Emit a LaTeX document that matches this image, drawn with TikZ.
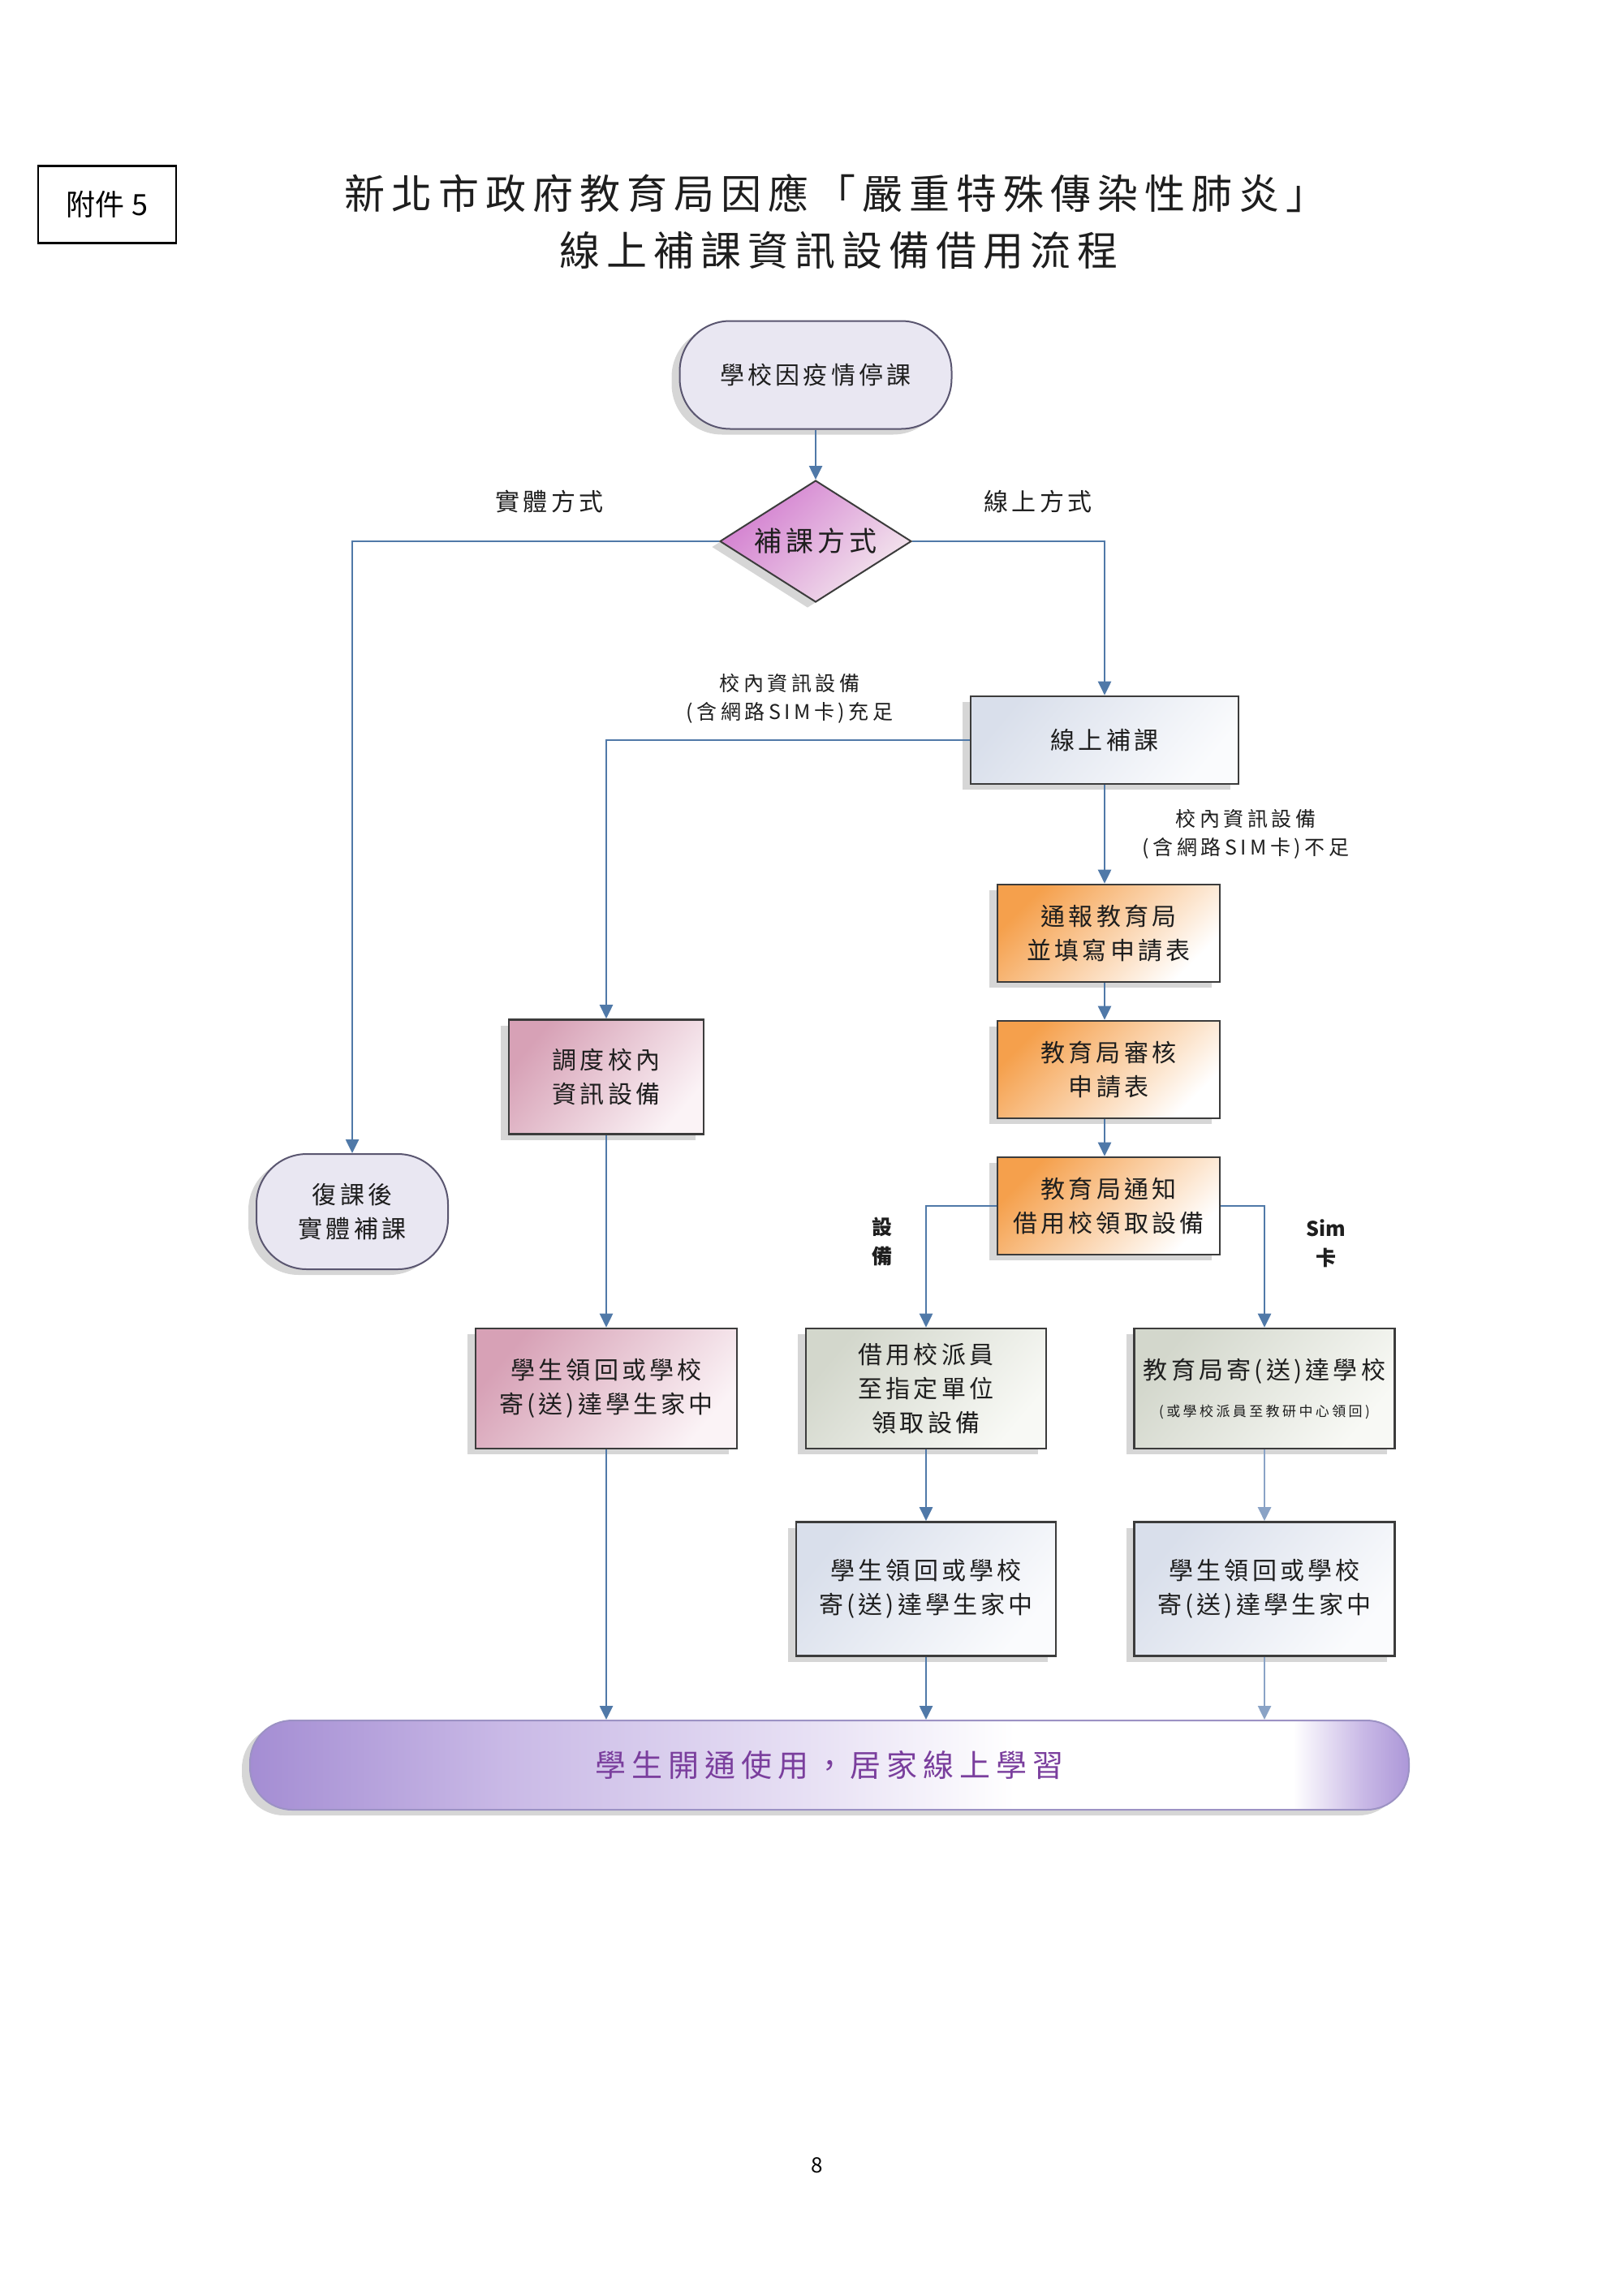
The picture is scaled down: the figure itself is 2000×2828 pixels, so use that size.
\documentclass[tikz,border=0pt]{standalone}
\usepackage{fontspec}
\setmainfont{Liberation Serif}
\newfontfamily\cjk{Noto Sans CJK TC}
\newfontfamily\sansf{Noto Sans CJK TC}
\usetikzlibrary{arrows.meta,shapes.geometric,shadows}
\definecolor{lineblue}{HTML}{5079A8}
\definecolor{linelight}{HTML}{8AA3C6}
\definecolor{boxborder}{HTML}{3C3C3C}
\definecolor{termfill}{HTML}{E9E7F2}
\definecolor{termborder}{HTML}{5A5670}
\definecolor{diaA}{HTML}{D27CCF}
\definecolor{diaB}{HTML}{F4E8EE}
\definecolor{blueA}{HTML}{D9DFEB}
\definecolor{blueB}{HTML}{FAFBFD}
\definecolor{orangeA}{HTML}{F5A04C}
\definecolor{pinkA}{HTML}{D7A1B6}
\definecolor{pinkB}{HTML}{FBF3F6}
\definecolor{greenA}{HTML}{D3D7CC}
\definecolor{greenB}{HTML}{F8F9F5}
\definecolor{finA}{HTML}{A48DD3}
\definecolor{finB}{HTML}{C9B9E6}
\definecolor{finC}{HTML}{AC97D8}
\definecolor{finborder}{HTML}{9C92C4}
\definecolor{fintext}{HTML}{7A3E9D}
\definecolor{textc}{HTML}{1E1E1E}
\pgfdeclarehorizontalshading{finshade}{100bp}{color(0bp)=(finA); color(25bp)=(finA); color(36bp)=(finB); color(50bp)=(finB!40!white); color(58bp)=(white); color(70bp)=(white); color(73bp)=(finB); color(75bp)=(finC); color(100bp)=(finC)}
\newcommand\lsp[1]{\addfontfeatures{LetterSpace=#1}}
\begin{document}
\begin{tikzpicture}[x=1pt,y=-1pt,
  conn/.style={draw=lineblue,line width=2.6pt,-{Triangle[length=17pt,width=16pt]}},
  connlight/.style={draw=linelight,line width=2.6pt,-{Triangle[length=17pt,width=16pt]}},
  shad/.style={drop shadow={shadow xshift=-10pt,shadow yshift=-7pt,fill=black,opacity=0.16}},
  boxtext/.style={font=\cjk\fontsize{30}{42}\selectfont\lsp{14},text=textc,align=center,inner sep=0pt},
  termnode/.style={shad,rectangle,rounded corners=62pt,draw=termborder,line width=2pt,fill=termfill,boxtext},
  procbox/.style={shad,rectangle,draw=boxborder,line width=2.6pt,boxtext},
  bluebox/.style={procbox,top color=blueA,bottom color=blueB,shading angle=50},
  orangebox/.style={procbox,top color=orangeA,bottom color=white,shading angle=45},
  pinkbox/.style={procbox,top color=pinkA,bottom color=pinkB,shading angle=50},
  greenbox/.style={procbox,top color=greenA,bottom color=greenB,shading angle=50},
  lbl/.style={font=\cjk\fontsize{30}{40}\selectfont\lsp{14},text=textc,align=center,inner sep=0pt},
  smalllbl/.style={font=\cjk\fontsize{25}{35}\selectfont\lsp{18},text=textc,align=center,inner sep=0pt},
  boldlbl/.style={font=\cjk\bfseries\fontsize{25}{36}\selectfont,text=textc,align=center,inner sep=0pt}
]
\useasboundingbox (0,0) rectangle (2000,2828);
\fill[white] (0,0) rectangle (2000,2828);

% header
\node[draw=black,line width=2.2pt,minimum width=170pt,minimum height=95pt,inner sep=0pt,font=\sansf\fontsize{36}{40}\selectfont] (fj) at (132,252) {附件 5};
\node[font=\cjk\fontsize{50}{60}\selectfont\lsp{16},text=textc,inner sep=0pt] (t1) at (1029,238) {新北市政府教育局因應「嚴重特殊傳染性肺炎」};
\node[font=\cjk\fontsize{50}{60}\selectfont\lsp{16},text=textc,inner sep=0pt] (t2) at (1033,309) {線上補課資訊設備借用流程};

% nodes
\node[termnode,minimum width=335pt,minimum height=133pt] (start) at (1005,462) {學校因疫情停課};
\node[shad,diamond,aspect=1.6,draw=boxborder,line width=2pt,top color=diaA,bottom color=diaB,shading angle=45,
      minimum width=236pt,minimum height=150pt,inner sep=0pt,font=\cjk\fontsize{34}{40}\selectfont\lsp{14},text=textc] (dia) at (1005,667) {補課方式};
\node[termnode,minimum width=236pt,minimum height=142pt] (fk) at (434,1493) {復課後\\實體補課};
\node[bluebox,minimum width=330pt,minimum height=108pt] (xs) at (1361,912) {線上補課};
\node[pinkbox,minimum width=240pt,minimum height=141pt] (dd) at (747,1327) {調度校內\\資訊設備};
\node[orangebox,minimum width=274pt,minimum height=120pt] (tb) at (1366,1150) {通報教育局\\並填寫申請表};
\node[orangebox,minimum width=274pt,minimum height=120pt] (sh) at (1366,1318) {教育局審核\\申請表};
\node[orangebox,minimum width=274pt,minimum height=120pt] (tz) at (1366,1486) {教育局通知\\借用校領取設備};
\node[pinkbox,minimum width=322pt,minimum height=148pt] (sl) at (747,1711) {學生領回或學校\\寄(送)達學生家中};
\node[greenbox,minimum width=296pt,minimum height=148pt] (jy) at (1141,1711) {借用校派員\\至指定單位\\領取設備};
\node[greenbox,minimum width=321pt,minimum height=148pt] (js) at (1558,1711) {教育局寄(送)達學校\\[4pt]{\fontsize{17}{22}\selectfont\lsp{20}(或學校派員至教研中心領回)}};
\node[bluebox,minimum width=320pt,minimum height=165pt] (sm) at (1141,1958) {學生領回或學校\\寄(送)達學生家中};
\node[bluebox,minimum width=321pt,minimum height=165pt] (sr) at (1558,1958) {學生領回或學校\\寄(送)達學生家中};
\node[shad,rectangle,rounded corners=52pt,draw=finborder,line width=2pt,shading=finshade,
      minimum width=1428pt,minimum height=110pt,inner sep=0pt,
      font=\cjk\fontsize{38}{44}\selectfont\lsp{18},text=fintext] (fin) at (1022,2175) {學生開通使用，居家線上學習};

% labels
\node[lbl] (l1) at (677,618) {實體方式};
\node[lbl] (l2) at (1279,618) {線上方式};
\node[smalllbl] (l3) at (973,861) {校內資訊設備\\(含網路SIM卡)充足};
\node[smalllbl] (l4) at (1535,1028) {校內資訊設備\\(含網路SIM卡)不足};
\node[boldlbl] (l5) at (1087,1530) {設\\備};
\node[boldlbl] (l6) at (1634,1532) {Sim\\卡};

% connectors
\draw[conn] (start.south) -- (dia.north);
\draw[conn] (dia.west) -| (fk.north);
\draw[conn] (dia.east) -| (xs.north);
\draw[conn] (xs.west) -| (dd.north);
\draw[conn] (xs.south) -- (xs.south |- tb.north);
\draw[conn] (tb.south -| xs.south) -- (xs.south |- sh.north);
\draw[conn] (sh.south -| xs.south) -- (xs.south |- tz.north);
\draw[conn] (tz.west) -| (jy.north);
\draw[conn] (tz.east) -| (js.north);
\draw[conn] (dd.south) -- (sl.north);
\draw[conn] (jy.south) -- (sm.north);
\draw[connlight] (js.south) -- (sr.north);
\draw[conn] (sl.south) -- (sl.south |- fin.north);
\draw[conn] (sm.south) -- (sm.south |- fin.north);
\draw[connlight] (sr.south) -- (sr.south |- fin.north);

% page number
\node[font=\sansf\fontsize{26}{30}\selectfont,inner sep=0pt] (pg) at (1007,2668) {8};
\end{tikzpicture}
\end{document}
